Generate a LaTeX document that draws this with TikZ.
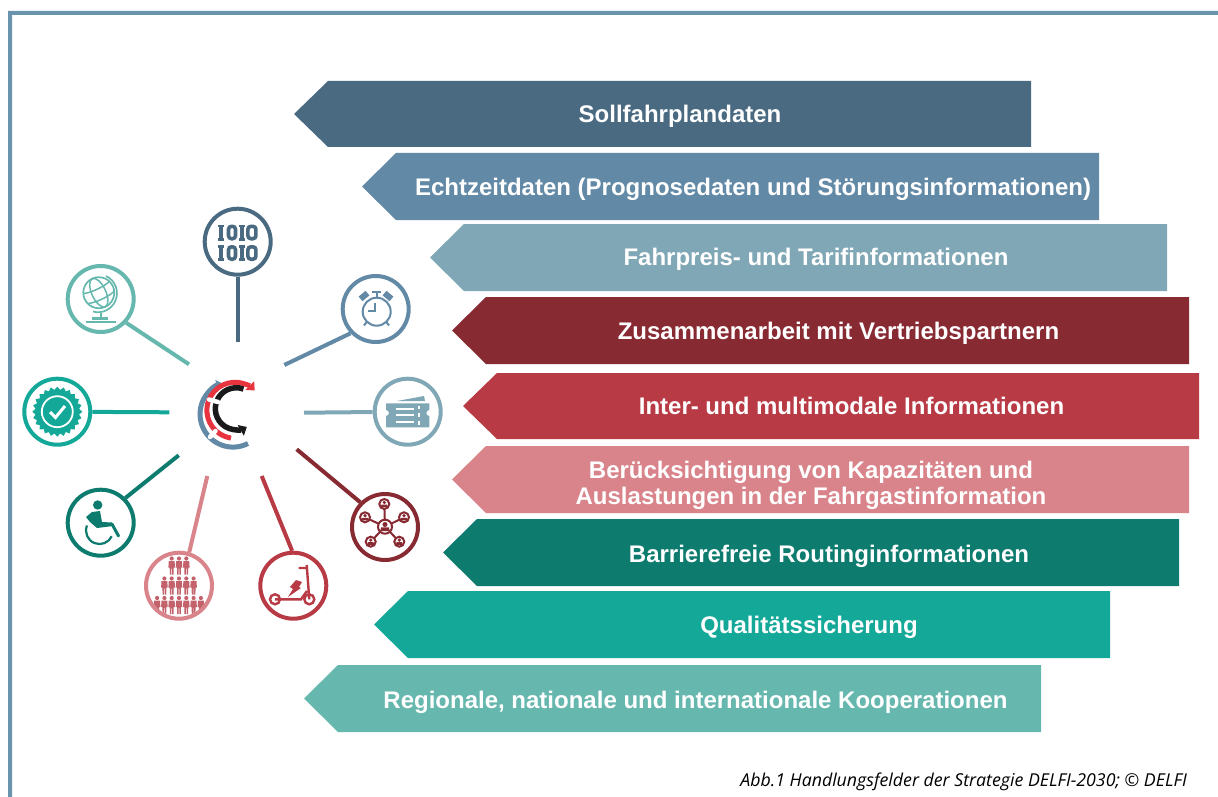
\documentclass[tikz,border=0pt]{standalone}
\usepackage{fontspec}
\setmainfont{Liberation Sans}
\newfontfamily\capfont{Open Sans}
\usetikzlibrary{arrows.meta,calc}
\definecolor{cA}{HTML}{4A6A82}
\definecolor{cB}{HTML}{6289A6}
\definecolor{cC}{HTML}{80A7B5}
\definecolor{cD}{HTML}{872A32}
\definecolor{cE}{HTML}{B83A45}
\definecolor{cF}{HTML}{D9838A}
\definecolor{cFd}{HTML}{C4626C}
\definecolor{cG}{HTML}{0E7B6F}
\definecolor{cH}{HTML}{13A898}
\definecolor{cI}{HTML}{66B7AE}
\definecolor{cFrame}{HTML}{6A94AE}
\definecolor{cRed}{HTML}{E8343F}
\definecolor{cBlack}{HTML}{1A1A1A}
\tikzset{
  ring/.style={circle,draw=#1,line width=4pt,minimum size=66pt,inner sep=0pt,fill=white},
  spoke/.style={draw=#1,line width=4pt},
  bannertext/.style={text=white,font=\fontsize{24}{26}\selectfont\bfseries,align=center,inner sep=0pt},
  iconline/.style={draw=#1,line width=2pt},
}
\newcommand\banner[9]{%
  \fill[#6] (#2,{(#4+#5)/2}) -- (#2+34,#4) -- (#3,#4) -- (#3,#5) -- (#2+34,#5) -- cycle;
  \node[bannertext] (#1) at (#7,#8+2) {#9};
}
\newcommand\person[3]{% x y colour
  \fill[#3] (#1,#2-7) circle[radius=2.1pt];
  \fill[#3] (#1-2.9,#2-4.4) -- (#1+2.9,#2-4.4) -- (#1+3.3,#2+2) -- (#1+2,#2+2) -- (#1+1.8,#2+9) -- (#1+.35,#2+9) -- (#1+.35,#2+3) -- (#1-.35,#2+3) -- (#1-.35,#2+9) -- (#1-1.8,#2+9) -- (#1-2,#2+2) -- (#1-3.3,#2+2) -- cycle;
}
\newcommand\netperson[3]{% x y r
  \draw[cD,line width=2pt,fill=white] (#1,#2) circle[radius=#3 pt];
  \fill[cD] (#1,#2-.32*#3) circle[radius=.36*#3 pt];
  \fill[cD] (#1-.68*#3,#2+.62*#3) -- (#1-.55*#3,#2+.1*#3) -- (#1+.55*#3,#2+.1*#3) -- (#1+.68*#3,#2+.62*#3) -- cycle;
}
\begin{document}
\begin{tikzpicture}[x=1pt,y=-1pt]
\useasboundingbox (0,0) rectangle (1218,797);
% frame
\fill[cFrame] (8,797) -- (8,11) -- (1218,11) -- (1218,15) -- (12,15) -- (12,797) -- cycle;
% banners
\banner{b1}{294}{1031}{81}{147}{cA}{680}{114}{Sollfahrplandaten}
\banner{b2}{362}{1099}{153}{220}{cB}{753}{187}{Echtzeitdaten (Prognosedaten und Störungsinformationen)}
\banner{b3}{430}{1167}{224}{291}{cC}{816}{257}{Fahrpreis- und Tarifinformationen}
\banner{b4}{452}{1189}{297}{364}{cD}{838.5}{331}{Zusammenarbeit mit Vertriebspartnern}
\banner{b5}{463}{1199}{373}{439}{cE}{851.5}{404}{Inter- und multimodale Informationen}
\banner{b6}{452}{1189}{446}{513}{cF}{811}{483}{Berücksichtigung von Kapazitäten und\\Auslastungen in der Fahrgastinformation}
\banner{b7}{443}{1179}{519}{586}{cG}{829}{554}{Barrierefreie Routinginformationen}
\banner{b8}{374}{1110}{591}{658}{cH}{809}{625}{Qualitätssicherung}
\banner{b9}{304}{1041}{665}{732}{cI}{695.5}{700}{Regionale, nationale und internationale Kooperationen}
% free ends
\coordinate (e1) at (237.7,342);
\coordinate (e2) at (284.3,365);
\coordinate (e3) at (304,412.7);
\coordinate (e4) at (296.7,449.3);
\coordinate (e5) at (261.7,476);
\coordinate (e6) at (207.3,476);
\coordinate (e7) at (178.7,455.3);
\coordinate (e8) at (169.3,412.3);
\coordinate (e9) at (189,364.3);
% rings
\node[ring=cA] (r1) at (237.7,241.7) {};
\node[ring=cB] (r2) at (375.7,309) {};
\node[ring=cC] (r3) at (407.7,411.7) {};
\node[ring=cD] (r4) at (385,527) {};
\node[ring=cE] (r5) at (293.3,585.7) {};
\node[ring=cF] (r6) at (179,585.7) {};
\node[ring=cG] (r7) at (100.7,522.7) {};
\node[ring=cH] (r8) at (57.3,411.7) {};
\node[ring=cI] (r9) at (100.7,299) {};
% spokes
\draw[spoke=cA] (e1) -- (r1);
\draw[spoke=cB] (e2) -- (r2.224);
\draw[spoke=cC] (e3) -- (r3);
\draw[spoke=cD] (e4) -- (r4.135);
\draw[spoke=cE] (e5) -- (r5.92);
\draw[spoke=cF] (e6) -- (r6.73);
\draw[spoke=cG] (e7) -- (r7.45);
\draw[spoke=cH] (e8) -- (r8);
\draw[spoke=cI] (e9) -- (r9.-43);
% centre logo
\draw[cB,line width=5pt,-{Triangle[length=5pt,width=10pt]}] (248,443.5) arc[start angle=-63,end angle=-250,radius=33pt];
\draw[cRed,line width=5pt,-{Triangle[length=7pt,width=12pt]}] (231,438) arc[start angle=262,end angle=45,radius=28pt];
\draw[cBlack,line width=5.5pt,-{Triangle[length=7pt,width=12pt]}] (243.5,389) arc[start angle=70,end angle=300,radius=21pt];
\draw[white,line width=4.5pt,line cap=round] (209,399.5) -- (218,402);
\draw[white,line width=4.5pt,line cap=round] (210,437) -- (215.5,431);
% icon 1: binary
\foreach \y in {224.5,245}{
  \fill[cA] (217.7,\y) rectangle (224.3,\y+2.6);
  \fill[cA] (217.7,\y+13.4) rectangle (224.3,\y+16);
  \fill[cA] (219.3,\y) rectangle (223.4,\y+16);
  \draw[cA,line width=3.6pt,rounded corners=3pt] (228.5,\y+1.8) rectangle (235.5,\y+14.2);
  \fill[cA] (238.8,\y) rectangle (244.6,\y+2.6);
  \fill[cA] (238.8,\y+13.4) rectangle (244.6,\y+16);
  \fill[cA] (239.8,\y) rectangle (243.9,\y+16);
  \draw[cA,line width=3.6pt,rounded corners=3pt] (247.9,\y+1.8) rectangle (255.9,\y+14.2);
}
% icon 2: clock
\draw[cB,line width=2pt] (376.7,311.7) circle[radius=14pt];
\fill[cB,rotate around={40:(364,296)}] (359.5,293) rectangle (368.5,299);
\fill[cB,rotate around={-40:(388,296)}] (383.5,293) rectangle (392.5,299);
\draw[cB,line width=2pt] (376.7,292) -- (376.7,297) (372,292) -- (381,292);
\draw[iconline=cB] (375,303) -- (375,311) -- (368,311);
\draw[iconline=cB] (367,321.5) -- (364,325.5) (386,321.5) -- (389,325.5);
% icon 3: ticket
\fill[cC] (386,403.3) -- (429.3,403.3) -- (429.3,410) arc[start angle=90,end angle=270,radius=3pt] -- (429.3,427.3) -- (386,427.3) -- (386,416) arc[start angle=-90,end angle=90,radius=3pt] -- cycle;
\fill[cC] (397,401) -- (424,396) -- (425,401) -- cycle;
\draw[white,line width=2pt] (396,408.5) -- (414,408.5) (396,415) -- (414,415) (396,421.5) -- (414,421.5);
\draw[white,line width=2pt] (419,406) -- (419,409) (419,413) -- (419,417) (419,421) -- (419,424.5);
% icon 4: network
\foreach \x/\y in {384.3/504,365/517.3,404/517.3,370.7/541.7,399.3/541.7}{
  \draw[cD,line width=2pt] (385,526.7) -- (\x,\y);
}
\netperson{385}{526.7}{7}
\netperson{384.3}{504}{5}
\netperson{365}{517.3}{5}
\netperson{404}{517.3}{5}
\netperson{370.7}{541.7}{5}
\netperson{399.3}{541.7}{5}
% icon 5: scooter
\draw[cE,line width=2.4pt] (275,599.3) circle[radius=5pt] (309.3,599.3) circle[radius=5pt];
\draw[cE,line width=2.4pt] (275,599.3) -- (301,599.3) -- (307,591) (306.7,565) -- (309.3,599.3) (298.5,568) -- (306.7,568);
\fill[cE] (296,580) -- (302,582) -- (299,587) -- (301,588) -- (288,597) -- (293,589) -- (290,587) -- cycle;
% icon 6: people
\begin{scope}
\clip (179,585.7) circle[radius=31pt];
\foreach \x in {171.7,179,186.3}{\person{\x}{565.5}{cFd}}
\foreach \x in {164.4,171.7,179,186.3,193.6}{\person{\x}{585.5}{cFd}}
\foreach \x in {157.1,164.4,171.7,179,186.3,193.6,200.9}{\person{\x}{605}{cFd}}
\end{scope}
% icon 7: wheelchair
\fill[cG] (97.7,505) circle[radius=4.7pt];
\fill[cG] (92,512) -- (100,511) -- (102,522) -- (112,522.5) -- (113,526) -- (97,528) -- (90,522) -- (86,517) -- cycle;
\draw[cG,line width=3pt,line cap=round] (112,524) -- (118.5,536);
\draw[cG,line width=2.2pt] (87,525.5) arc[start angle=158,end angle=335,radius=13.5pt];
% icon 8: badge
\fill[cH] (82.3,411.7) \foreach \a in {0,15,...,345}{ -- ($(57.3,411.7)+(\a:25pt)$) -- ($(57.3,411.7)+(\a+7.5:22pt)$) } -- cycle;
\draw[white,line width=1.8pt] (57.3,411.7) circle[radius=15.5pt];
\draw[white,line width=3pt] (50,412) -- (55.5,417.5) -- (65,406);
% icon 9: globe
\draw[cI,line width=1.7pt] (98.8,292.7) circle[radius=15.5pt];
\begin{scope}[rotate around={25:(98.8,292.7)}]
  \draw[cI,line width=1.5pt] (98.8,292.7) ellipse[x radius=7pt,y radius=15.5pt];
  \draw[cI,line width=1.5pt] (84.5,287) .. controls (92,289.5) and (106,289.5) .. (113,287);
  \draw[cI,line width=1.5pt] (84.5,298) .. controls (92,300.5) and (106,300.5) .. (113,298);
\end{scope}
\draw[cI,line width=1.7pt] (106,276) arc[start angle=65,end angle=-105,radius=19pt];
\draw[cI,line width=2.2pt] (100.7,312.5) -- (100.7,318) (92,318.5) -- (108,318.5);
\draw[cI,line width=2pt] (86,321.5) -- (116,321.5);
% caption
\node[anchor=east,inner sep=0pt,font=\capfont\itshape\fontsize{17.75}{20}\selectfont,text=black] (cap) at (1187,782) {Abb.1 Handlungsfelder der Strategie DELFI-2030; © DELFI};
\end{tikzpicture}
\end{document}
